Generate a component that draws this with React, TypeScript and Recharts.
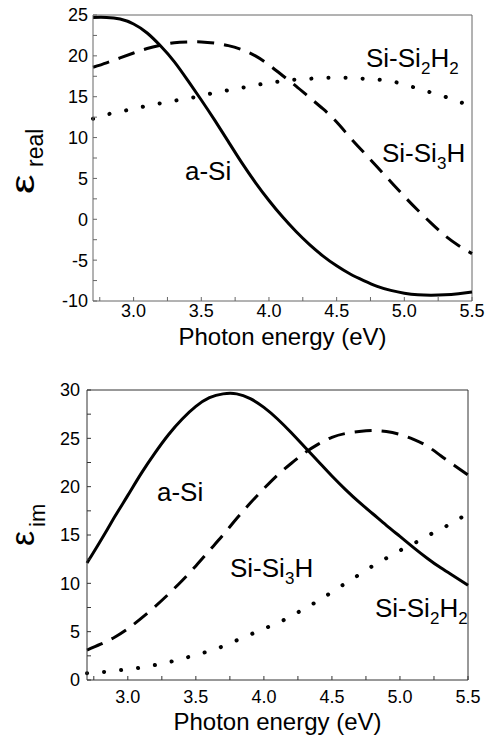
import { LineChart, Line, XAxis, YAxis, ReferenceLine } from 'recharts'

const FONT = '"Liberation Sans", Arial, Helvetica, sans-serif'

// photon energy (eV)
const energy = [
  2.7, 2.8, 2.9, 3.0, 3.1, 3.2, 3.3, 3.4, 3.5, 3.6, 3.7, 3.8, 3.9, 4.0, 4.1,
  4.2, 4.3, 4.4, 4.5, 4.6, 4.7, 4.8, 4.9, 5.0, 5.1, 5.2, 5.3, 5.4, 5.5,
]

// real part
const realASi = [
  24.7, 24.7, 24.5, 23.9, 22.8, 21.2, 19.3, 17.0, 14.6, 12.1, 9.5, 6.9, 4.5, 2.3, 0.3,
  -1.5, -3.1, -4.5, -5.7, -6.7, -7.5, -8.2, -8.7, -9.05, -9.25, -9.3, -9.25, -9.1, -8.9,
]
const realSi3H = [
  18.6, 19.15, 19.75, 20.35, 20.9, 21.3, 21.6, 21.7, 21.7, 21.55, 21.25, 20.75, 20.0, 18.9, 17.6,
  16.3, 14.9, 13.5, 11.9, 10.0, 8.2, 6.4, 4.6, 2.8, 1.1, -0.5, -2.0, -3.2, -4.2,
]
const realSi2H2 = [
  12.3, 12.8, 13.2, 13.5, 13.9, 14.2, 14.5, 14.8, 15.1, 15.5, 15.8, 16.1, 16.4, 16.7, 16.9,
  17.1, 17.2, 17.3, 17.3, 17.3, 17.2, 17.1, 16.9, 16.5, 16.0, 15.5, 15.0, 14.4, 13.9,
]

// imaginary part
const imASi = [
  12.1, 14.4, 16.8, 19.1, 21.4, 23.5, 25.4, 27.0, 28.3, 29.2, 29.6, 29.6, 29.1, 28.2, 27.0,
  25.6, 24.1, 22.6, 21.1, 19.7, 18.4, 17.2, 16.0, 14.85, 13.7, 12.6, 11.6, 10.7, 9.8,
]
const imSi3H = [
  3.1, 3.7, 4.4, 5.3, 6.4, 7.6, 8.9, 10.3, 11.8, 13.4, 15.0, 16.7, 18.3, 19.8, 21.2,
  22.4, 23.5, 24.4, 25.1, 25.5, 25.7, 25.8, 25.7, 25.4, 24.9, 24.2, 23.2, 22.2, 21.2,
]
const imSi2H2 = [
  0.7, 0.8, 0.95, 1.1, 1.3, 1.55, 1.85, 2.2, 2.6, 3.0, 3.5, 4.1, 4.7, 5.3, 5.9,
  6.6, 7.4, 8.2, 9.1, 10.0, 10.9, 11.8, 12.6, 13.4, 14.1, 14.9, 15.6, 16.4, 17.2,
]

const xTicks = [2.75, 3.0, 3.25, 3.5, 3.75, 4.0, 4.25, 4.5, 4.75, 5.0, 5.25, 5.5]
const realTicks = [-10, -7.5, -5, -2.5, 0, 2.5, 5, 7.5, 10, 12.5, 15, 17.5, 20, 22.5, 25]
const imTicks = [0, 2.5, 5, 7.5, 10, 12.5, 15, 17.5, 20, 22.5, 25, 27.5, 30]

const topData = energy.map((e, i) => ({ e, aSi: realASi[i], si3h: realSi3H[i], si2h2: realSi2H2[i] }))
const bottomData = energy.map((e, i) => ({ e, aSi: imASi[i], si3h: imSi3H[i], si2h2: imSi2H2[i] }))

const xFmt = (v: number) => (Math.abs(v * 2 - Math.round(v * 2)) < 1e-6 ? v.toFixed(1) : '')
const yFmt = (v: number) => (v % 5 === 0 ? String(v) : '')

const tickStyle = { fontSize: 18, fill: '#000', fontFamily: FONT }

interface PanelProps {
  data: { e: number; aSi: number; si3h: number; si2h2: number }[]
  height: number
  top: number
  left: number
  right: number
  xAxisH: number
  yDomain: [number, number]
  yTicks: number[]
  frame: string
  xTickMargin: number
  yTickMargin: number
  titleOffset: number
}

function Panel(p: PanelProps) {
  return (
    <LineChart
      width={485}
      height={p.height}
      data={p.data}
      margin={{ top: p.top, right: p.right, left: 0, bottom: 0 }}
      style={{ fontFamily: FONT }}
    >
      <XAxis
        dataKey="e"
        type="number"
        domain={[2.7, 5.5]}
        ticks={xTicks}
        tickFormatter={xFmt}
        height={p.xAxisH}
        tickSize={-4}
        tickMargin={p.xTickMargin}
        tick={tickStyle}
        stroke={p.frame}
        interval={0}
        label={{
          value: 'Photon energy (eV)',
          position: 'insideBottom',
          offset: p.titleOffset,
          style: { fontSize: 24, fill: '#000', fontFamily: FONT },
        }}
      />
      <XAxis
        xAxisId="top"
        orientation="top"
        dataKey="e"
        type="number"
        domain={[2.7, 5.5]}
        ticks={xTicks}
        height={0}
        tickSize={-4}
        tick={false}
        stroke={p.frame}
        interval={0}
      />
      <YAxis
        type="number"
        domain={p.yDomain}
        ticks={p.yTicks}
        tickFormatter={yFmt}
        width={p.left}
        tickSize={-4}
        tickMargin={p.yTickMargin}
        tick={tickStyle}
        stroke={p.frame}
        interval={0}
      />
      <YAxis
        yAxisId="right"
        orientation="right"
        type="number"
        domain={p.yDomain}
        ticks={p.yTicks}
        width={0}
        tickSize={-4}
        tick={false}
        stroke={p.frame}
        interval={0}
      />
      <ReferenceLine y={p.yDomain[1]} stroke={p.frame} />
      <ReferenceLine x={5.5} stroke={p.frame} />
      <Line dataKey="aSi" type="natural" stroke="#000" strokeWidth={3} dot={false} isAnimationActive={false} />
      <Line
        dataKey="si3h"
        type="natural"
        stroke="#000"
        strokeWidth={3}
        strokeDasharray="17 10"
        dot={false}
        isAnimationActive={false}
      />
      <Line
        dataKey="si2h2"
        xAxisId="top"
        yAxisId="right"
        type="natural"
        stroke="#000"
        strokeWidth={4}
        strokeDasharray="0.1 17"
        strokeLinecap="round"
        dot={false}
        isAnimationActive={false}
      />
    </LineChart>
  )
}

export default function App() {
  return (
    <div style={{ position: 'absolute', left: 0, top: 0, width: 485, height: 739, background: '#fff' }}>
      <div style={{ position: 'absolute', left: 0, top: 0 }}>
        <Panel
          data={topData}
          height={370}
          top={15}
          left={93}
          right={13}
          xAxisH={69}
          yDomain={[-10, 25]}
          yTicks={realTicks}
          frame="#666"
          xTickMargin={7}
          yTickMargin={9}
          titleOffset={25}
        />
      </div>
      <div style={{ position: 'absolute', left: 0, top: 370 }}>
        <Panel
          data={bottomData}
          height={369}
          top={20}
          left={87}
          right={17}
          xAxisH={59}
          yDomain={[0, 30]}
          yTicks={imTicks}
          frame="#333"
          xTickMargin={14}
          yTickMargin={11}
          titleOffset={9}
        />
      </div>
      <svg
        width={485}
        height={739}
        style={{ position: 'absolute', left: 0, top: 0, pointerEvents: 'none', fontFamily: FONT }}
      >
        <g fill="#000" fontSize={26}>
          <text x={366} y={67}>
            Si-Si<tspan fontSize={17} dy={7}>2</tspan>
            <tspan dy={-7}>H</tspan>
            <tspan fontSize={17} dy={7}>2</tspan>
          </text>
          <text x={382} y={162}>
            Si-Si<tspan fontSize={17} dy={7}>3</tspan>
            <tspan dy={-7}>H</tspan>
          </text>
          <text x={185} y={180}>a-Si</text>

          <text x={157} y={501}>a-Si</text>
          <text x={230} y={577}>
            Si-Si<tspan fontSize={17} dy={7}>3</tspan>
            <tspan dy={-7}>H</tspan>
          </text>
          <text x={375} y={617}>
            Si-Si<tspan fontSize={17} dy={7}>2</tspan>
            <tspan dy={-7}>H</tspan>
            <tspan fontSize={17} dy={7}>2</tspan>
          </text>
        </g>
        <text transform="translate(34,194) rotate(-90) scale(1.3,1)" fontSize={34}>ε</text>
        <text transform="translate(43,167) rotate(-90)" fontSize={23}>real</text>
        <text transform="translate(34,546) rotate(-90)" fontSize={34}>ε</text>
        <text transform="translate(45,527) rotate(-90)" fontSize={22}>im</text>
      </svg>
    </div>
  )
}
